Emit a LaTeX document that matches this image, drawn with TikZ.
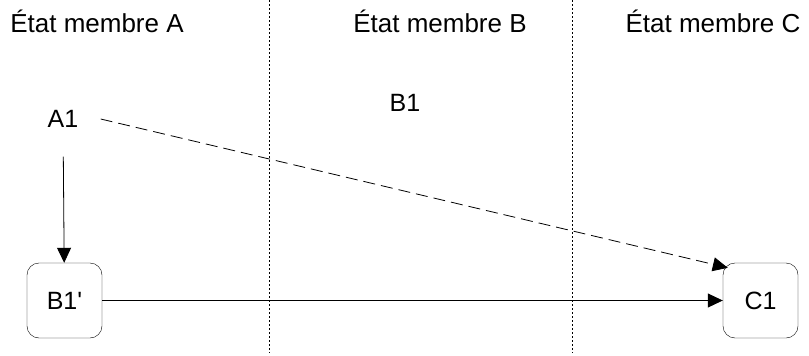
\documentclass[tikz,border=0pt]{standalone}
\usepackage{fontspec}
\setmainfont{Liberation Sans}[Ligatures=TeXOff]
\usetikzlibrary{arrows.meta,calc}
\begin{document}
\begin{tikzpicture}[x=1pt,y=-1pt,font=\fontsize{25}{28}\selectfont]
  \useasboundingbox (0,0) rectangle (809,356);
  \tikzset{
    state/.style={rectangle,draw,rounded corners=12pt,minimum size=75pt,inner sep=0pt},
    ghost/.style={rectangle,minimum size=75pt,inner sep=0pt},
    border/.style={dash pattern=on 2pt off 2pt,line width=0.6pt},
    header/.style={font=\fontsize{26}{30}\selectfont},
    flow/.style={line width=0.8pt,-{Triangle[length=15pt,width=14pt]}}
  }
  % border lines between states
  \draw[border] (269,0) -- (269,353);
  \draw[border] (572,0) -- (572,353);
  % headers
  \node[header] (hA) at (97,21)  {État membre A};
  \node[header] (hB) at (440,21) {État membre B};
  \node[header] (hC) at (713,21) {État membre C};
  % nodes
  \node[ghost] (A1) at (63,119) {A1};
  \node (B1) at (405,103) {B1};
  \node[state] (B1p) at (64.5,300.5) {B1'};
  \node[state] (C1)  at (760.5,300.5) {C1};
  \coordinate (C1nw) at ($(C1.north west)+(5,5)$);
  % arrows
  \draw[flow] (A1) -- (B1p);
  \draw[flow] (B1p) -- (C1);
  \draw[flow,dash pattern=on 12pt off 6pt] (A1.east) -- (C1nw);
\end{tikzpicture}
\end{document}
